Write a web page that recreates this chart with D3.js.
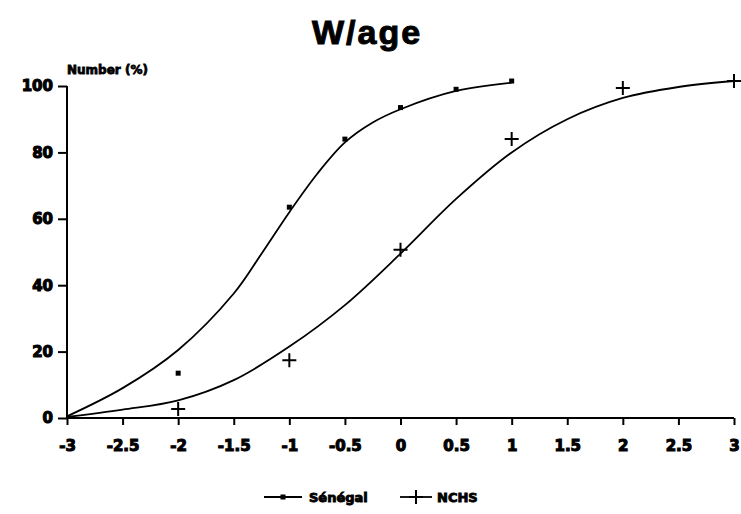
<!DOCTYPE html>
<html>
<head>
<meta charset="utf-8">
<script src="https://cdn.jsdelivr.net/npm/d3@7"></script>
<style>
  body { margin: 0; background: #fff; }
  text { font-family: "DejaVu Sans", sans-serif; font-weight: bold; fill: #000; }
</style>
</head>
<body>
<div id="chart"></div>
<script>
///data
var xTicks = [-3, -2.5, -2, -1.5, -1, -0.5, 0, 0.5, 1, 1.5, 2, 2.5, 3];
var yTicks = [0, 20, 40, 60, 80, 100];

// observed points
var senegalX = [-2, -1, -0.5, 0, 0.5, 1];
var senegalY = [13.5, 63.5, 84, 93.5, 99, 101.5];
var nchsX = [-2, -1, 0, 1, 2, 3];
var nchsY = [2.7, 17.4, 50.7, 84, 99.4, 101.5];

// fitted curves (traced)
var senegalCurveX = [-3, -2.5, -2, -1.5, -1.25, -1, -0.75, -0.5, -0.25, 0, 0.5, 1];
var senegalCurveY = [0.5, 9, 20.5, 37.5, 49.5, 62, 73.5, 83, 89, 93, 98.5, 101];
var nchsCurveX = [-3, -2.5, -2, -1.5, -1, -0.5, 0, 0.5, 1, 1.5, 2, 2.5, 3];
var nchsCurveY = [0.3, 2.5, 5.3, 11.4, 21.5, 34, 49.5, 66, 80, 90, 96.4, 99.7, 101.5];

var width = 741, height = 514;

var svg = d3.select('#chart').append('svg')
    .attr('width', width)
    .attr('height', height);

var x = d3.scaleLinear().domain([-3, 3]).range([67, 734]);
var y = d3.scaleLinear().domain([0, 100]).range([418, 86]);

///title
svg.append('text')
    .attr('x', 367).attr('y', 44)
    .attr('text-anchor', 'middle')
    .style('font-family', '"Liberation Sans", Arial, sans-serif')
    .style('font-size', '34px')
    .style('letter-spacing', '2px')
    .style('stroke', '#000').style('stroke-width', 1)
    .text('W/age');

svg.append('text')
    .attr('x', 67).attr('y', 74)
    .style('font-size', '12px')
    .style('stroke', '#000').style('stroke-width', 0.8)
    .text('Number (%)');

///axes
var yAxis = svg.append('g')
    .attr('transform', 'translate(' + x(-3) + ',0)')
    .call(d3.axisLeft(y).tickValues(yTicks).tickSize(9).tickPadding(5).tickFormat(d3.format('d')));

var xAxis = svg.append('g')
    .attr('transform', 'translate(0,' + y(0) + ')')
    .call(d3.axisBottom(x).tickValues(xTicks).tickSize(7).tickPadding(15).tickFormat(d => String(d)));

[yAxis, xAxis].forEach(g => {
  g.select('.domain').attr('stroke', '#000').attr('stroke-width', 2);
  g.selectAll('.tick line').attr('stroke', '#000').attr('stroke-width', 2);
  g.selectAll('.tick text')
      .attr('font-family', null)
      .style('font-size', '15px')
      .style('stroke', '#000').style('stroke-width', 1.1);
});
yAxis.select('.domain').attr('d', 'M0,' + y(100) + 'V' + y(0));
xAxis.select('.domain').attr('d', 'M' + x(-3) + ',0H' + x(3));

///curves
var line = d3.line()
    .x(d => x(d[0]))
    .y(d => y(d[1]))
    .curve(d3.curveCatmullRom.alpha(0.5));

svg.append('path')
    .datum(d3.zip(senegalCurveX, senegalCurveY))
    .attr('fill', 'none').attr('stroke', '#000').attr('stroke-width', 1.8)
    .attr('d', line);

svg.append('path')
    .datum(d3.zip(nchsCurveX, nchsCurveY))
    .attr('fill', 'none').attr('stroke', '#000').attr('stroke-width', 1.8)
    .attr('d', line);

///markers
function square(g, cx, cy) {
  g.append('rect')
      .attr('x', cx - 2.5).attr('y', cy - 2.5)
      .attr('width', 5).attr('height', 5)
      .attr('fill', '#000');
}
function plus(g, cx, cy) {
  g.append('path')
      .attr('d', 'M' + (cx - 7) + ',' + cy + 'H' + (cx + 7) + 'M' + cx + ',' + (cy - 7) + 'V' + (cy + 7))
      .attr('stroke', '#000').attr('stroke-width', 2).attr('fill', 'none');
}

d3.zip(senegalX, senegalY).forEach(d => square(svg, x(d[0]), y(d[1])));
d3.zip(nchsX, nchsY).forEach(d => plus(svg, x(d[0]), y(d[1])));

///legend
var legend = svg.append('g').attr('transform', 'translate(0,497)');
legend.append('line').attr('x1', 264).attr('x2', 302).attr('y1', 0).attr('y2', 0)
    .attr('stroke', '#000').attr('stroke-width', 1.8);
square(legend, 283, 0);
legend.append('text').attr('x', 309).attr('y', 5)
    .style('font-size', '13px').style('stroke', '#000').style('stroke-width', 0.9)
    .text('Sénégal');

legend.append('line').attr('x1', 400).attr('x2', 432).attr('y1', 0).attr('y2', 0)
    .attr('stroke', '#000').attr('stroke-width', 1.8);
plus(legend, 416, 0);
legend.append('text').attr('x', 437).attr('y', 5)
    .style('font-size', '13px').style('stroke', '#000').style('stroke-width', 0.9)
    .text('NCHS');
</script>
</body>
</html>
